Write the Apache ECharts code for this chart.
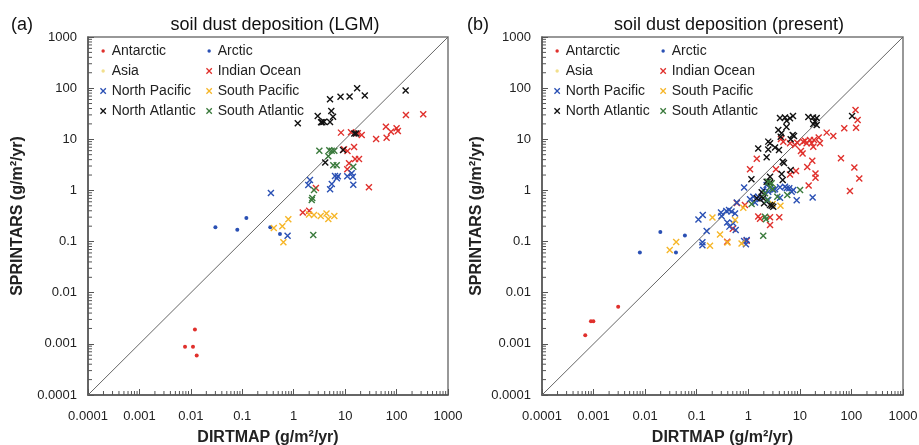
<!DOCTYPE html>
<html>
<head>
<meta charset="utf-8">
<script src="https://cdn.jsdelivr.net/npm/echarts@6/dist/echarts.min.js"></script>
<style>
html,body{margin:0;padding:0;background:#fff;}
#chart{width:919px;height:445px;}
</style>
</head>
<body>
<div id="chart"></div>
<script>
// ---------- tick labels ----------
const tickLabels = ['0.0001','0.001','0.01','0.1','1','10','100','1000'];
const minorMultipliers = [2,3,4,5,6,7,8,9];
const minorDecades = [0.0001,0.001,0.01,0.1,1,10,100];
const oneToOne = [[0.0001,0.0001],[1000,1000]];

// ---------- series names ----------
const groupNames = ['Antarctic','Arctic','Asia','Indian Ocean','North Pacific','South Pacific','North Atlantic','South Atlantic'];

// ---------- (a) LGM : [DIRTMAP, SPRINTARS] ----------
const lgmAntarctic = [[0.0077,0.00088],[0.011,0.00088],[0.012,0.0019],[0.013,0.00059]];
const lgmArctic = [[0.030,0.19],[0.080,0.17],[0.12,0.29],[0.35,0.19],[0.54,0.14]];
const lgmAsia = [];
const lgmIndianOcean = [[8.3,13.5],[13,13.7],[17.6,13.1],[21,12.1],[14.9,7.1],[9.5,6.4],[11.1,5.9],[15.6,4.1],[18.6,4.1],[11.9,3.4],[11,2.6],[2.7,1.11],[29,1.15],[1.5,0.37],[2.0,0.40],[40,10.1],[62,17.6],[78,14.1],[64,10.7],[100,16.4],[106,14.5],[152,30],[330,31]];
const lgmNorthPacific = [[0.36,0.89],[2.07,1.6],[1.92,1.28],[5.1,1.05],[5.5,1.33],[6.35,1.91],[7.2,1.89],[6.9,1.73],[11,1.89],[13.4,2.16],[14.1,1.85],[14.4,1.29],[0.76,0.13]];
const lgmSouthPacific = [[0.41,0.185],[0.60,0.20],[0.785,0.273],[0.63,0.097],[1.98,0.34],[2.48,0.33],[3.35,0.317],[4.34,0.354],[4.71,0.277],[6.16,0.317]];
const lgmNorthAtlantic = [[1.2,20.5],[2.93,28.6],[3.4,21.5],[3.6,21.5],[3.88,22.1],[5.08,21.8],[5.38,35.8],[5.81,27.7],[5.08,60.6],[8.13,68],[12.2,68.7],[17.1,99],[24.1,72],[150,90],[15.1,13],[16.3,13],[9.1,6.2],[4.1,3.5]];
const lgmSouthAtlantic = [[3.15,6.0],[4.92,6.1],[5.48,6.0],[6.16,6.0],[4.71,4.65],[5.89,3.1],[6.86,3.1],[14.4,2.9],[2.48,1.02],[2.24,0.65],[2.3,0.71],[2.4,0.135]];

// ---------- (b) present : [DIRTMAP, SPRINTARS] ----------
const preAntarctic = [[0.00069,0.00147],[0.00089,0.00277],[0.00099,0.00277],[0.0030,0.00534]];
const preArctic = [[0.0079,0.061],[0.0197,0.154],[0.0396,0.061],[0.059,0.132]];
const preAsia = [];
const preIndianOcean = [[120,37.4],[132,23.8],[123,16.9],[72.6,16.4],[33.1,13.5],[44.5,11.6],[23.2,10.8],[18.8,9.7],[12.6,9.4],[15.7,9.7],[16.9,8.35],[24.5,8.35],[18.2,7.17],[10.5,5.9],[11.3,5.3],[17.4,3.79],[62.7,4.25],[114,2.8],[142,1.72],[93.6,0.97],[13.9,2.87],[20.1,2.14],[20.1,1.77],[14.8,1.25],[8.41,2.39],[6.44,2.05],[3.44,2.59],[1.08,2.59],[1.46,4.15],[4.77,8.97],[6.44,8.35],[8.05,7.7],[8.92,8.6],[11.6,8.97],[13.5,8.35],[2.64,0.30],[3.99,0.30],[1.56,0.31],[1.69,0.28],[2.64,0.21],[0.50,0.178],[0.39,0.0995],[0.86,0.52],[0.60,0.57],[0.93,0.104],[4.3,10.1]];
const preNorthPacific = [[0.108,0.27],[0.131,0.331],[0.129,0.097],[0.129,0.085],[0.156,0.161],[0.296,0.371],[0.303,0.317],[0.375,0.397],[0.423,0.415],[0.473,0.388],[0.553,0.354],[0.39,0.236],[0.43,0.196],[0.51,0.228],[0.57,0.169],[0.83,0.103],[0.93,0.107],[0.90,0.089],[0.83,1.14],[1.08,0.67],[1.25,0.75],[1.35,0.58],[1.69,0.68],[2.44,0.65],[2.44,0.94],[3.3,1.05],[5.55,1.1],[4.12,0.72],[8.68,0.64],[6.95,0.94],[0.60,0.58],[1.95,1.02],[2.27,1.28],[3.05,1.02],[4.12,1.15],[5.15,1.18],[6.24,1.1],[7.46,1.02],[17.7,0.73],[1.56,0.75]];
const preSouthPacific = [[0.030,0.0685],[0.040,0.098],[0.181,0.083],[0.202,0.296],[0.283,0.138],[0.395,0.096],[0.553,0.264],[0.74,0.092],[0.80,0.46],[4.21,0.50],[2.97,0.54]];
const preNorthAtlantic = [[1.15,1.66],[1.56,6.6],[2.27,4.44],[2.44,9.0],[2.64,8.35],[2.44,6.3],[3.3,6.9],[3.94,6.17],[3.82,15.2],[4.12,26.1],[5.15,26.7],[6.44,25.7],[7.36,28.6],[5.5,17.4],[4.4,13.1],[7.7,11.6],[6.64,10],[14.6,27.3],[18,26.7],[21.2,26.1],[19.6,22.3],[18.2,19.9],[21.2,19],[103,28.6],[4.65,3.64],[4.92,3.43],[6.64,2.5],[4.44,2.09],[4.65,1.6],[2.64,1.85],[2.64,1.41],[1.82,0.75],[1.95,0.70],[1.46,0.70],[3.05,0.48],[2.64,0.52],[1.82,0.92],[2.02,0.56],[2.84,0.50],[5.55,23.1],[4.25,11.2],[7.26,12.1],[2.27,1.48]];
const preSouthAtlantic = [[1.95,0.130],[2.11,0.306],[2.20,0.272],[1.16,0.54],[2.44,1.48],[2.84,1.38],[2.64,1.15],[10.1,1.02],[3.65,0.75],[5.7,0.81],[2.11,0.88],[2.97,1.06],[2.34,0.65]];

const lgmData = [lgmAntarctic,lgmArctic,lgmAsia,lgmIndianOcean,lgmNorthPacific,lgmSouthPacific,lgmNorthAtlantic,lgmSouthAtlantic];
const preData = [preAntarctic,preArctic,preAsia,preIndianOcean,preNorthPacific,preSouthPacific,preNorthAtlantic,preSouthAtlantic];

// ---------- styles ----------
const colors = {
  'Antarctic':'#e0302c','Arctic':'#2a50b4','Asia':'#f2df8c','Indian Ocean':'#e0302c',
  'North Pacific':'#2a50b4','South Pacific':'#f6b628','North Atlantic':'#111111','South Atlantic':'#3a7a3c'
};
const isDot = {'Antarctic':true,'Arctic':true,'Asia':true};
const crossPath = 'path://M0,0L10,10M10,0L0,10';
const crossIcon = 'path://M0,0M10,10M2,2L8,8M8,2L2,8';
const dotIcon = 'path://M0,0M10,10M5,3.1A1.9,1.9,0,1,1,5,6.9A1.9,1.9,0,1,1,5,3.1Z';

const FONT = 'Liberation Sans, Arial, sans-serif';
const minorTickValues = [];
minorDecades.forEach(d => minorMultipliers.forEach(m => minorTickValues.push(d*m)));

const grids = [
  {left:88, top:37, width:360, height:358},
  {left:542, top:37, width:361, height:358}
];

function labelFmt(v){
  const i = Math.round(Math.log10(v)) + 4;
  return tickLabels[i] !== undefined ? tickLabels[i] : '';
}

function makeAxis(dim, gi, nameGap){
  return {
    type:'log', logBase:10, gridIndex:gi, min:0.0001, max:1000, splitNumber:7,
    name: dim === 'x' ? 'DIRTMAP (g/m²/yr)' : 'SPRINTARS (g/m²/yr)',
    nameLocation:'middle', nameGap:nameGap,
    nameRotate: dim === 'x' ? 0 : 90,
    nameTextStyle:{fontFamily:FONT, fontSize:16, fontWeight:'bold', color:'#222'},
    axisLine:{show:true, onZero:false, lineStyle:{color:'#555', width:1.5}},
    axisTick:{show:true, inside:true, length:6, lineStyle:{color:'#555', width:1}},
    minorTick:{show:false},
    splitLine:{show:false},
    axisLabel:{fontFamily:FONT, fontSize:13, color:'#222', margin: dim === 'x' ? 15 : 11,
      showMinLabel:true, showMaxLabel:true, formatter:labelFmt}
  };
}

const series = [];
[lgmData, preData].forEach((set, gi) => {
  series.push({
    type:'line', name:'1:1', xAxisIndex:gi, yAxisIndex:gi, data:oneToOne,
    symbol:'none', silent:true, lineStyle:{color:'#666', width:1}, z:1, animation:false
  });
  groupNames.forEach((nm, k) => {
    const c = colors[nm];
    series.push({
      type:'scatter', name:nm, xAxisIndex:gi, yAxisIndex:gi, data:set[k],
      symbol: isDot[nm] ? 'circle' : crossPath,
      symbolSize: isDot[nm] ? 4 : 6,
      itemStyle: isDot[nm] ? {color:c, borderWidth:0, opacity:1}
                           : {color:c, borderColor:c, borderWidth:1.4, opacity:1},
      z:3, animation:false
    });
  });
  // minor ticks (log 2..9) drawn through the axis scale
  series.push({
    type:'custom', xAxisIndex:gi, yAxisIndex:gi, silent:true, z:2, clip:false, animation:false,
    data: minorTickValues.map(v => [v, 0.0001]),
    renderItem:(params, api) => {
      const p = api.coord([api.value(0), 0.0001]);
      return {type:'line', shape:{x1:p[0], y1:p[1], x2:p[0], y2:p[1]-4}, style:{stroke:'#555', lineWidth:1}};
    }
  });
  series.push({
    type:'custom', xAxisIndex:gi, yAxisIndex:gi, silent:true, z:2, clip:false, animation:false,
    data: minorTickValues.map(v => [0.0001, v]),
    renderItem:(params, api) => {
      const p = api.coord([0.0001, api.value(1)]);
      return {type:'line', shape:{x1:p[0], y1:p[1], x2:p[0]+4, y2:p[1]}, style:{stroke:'#555', lineWidth:1}};
    }
  });
});

function legendItem(nm){
  const c = colors[nm];
  return {name:nm, icon: isDot[nm] ? dotIcon : crossIcon,
    itemStyle: isDot[nm] ? {color:c, borderWidth:0} : {color:c, borderColor:c, borderWidth:1.3}};
}
const col1 = ['Antarctic','Asia','North Pacific','North Atlantic'];
const col2 = ['Arctic','Indian Ocean','South Pacific','South Atlantic'];
const legends = [];
grids.forEach(g => {
  [[col1, 10], [col2, 116]].forEach(([names, off]) => {
    legends.push({
      orient:'vertical', left:g.left + off, top:44, itemWidth:9, itemHeight:9, itemGap:6,
      selectedMode:false, padding:0,
      textStyle:{fontFamily:FONT, fontSize:14, color:'#222', padding:[0,0,0,-1]},
      data:names.map(legendItem)
    });
  });
});

const titleStyle = {fontFamily:FONT, fontSize:18, fontWeight:'normal', color:'#111'};
const option = {
  backgroundColor:'#fff',
  animation:false,
  title:[
    {text:'soil dust deposition (LGM)', left:270, top:11, textAlign:'center', textStyle:titleStyle},
    {text:'soil dust deposition (present)', left:724, top:11, textAlign:'center', textStyle:titleStyle},
    {text:'(a)', left:6, top:11, textStyle:titleStyle},
    {text:'(b)', left:462, top:11, textStyle:titleStyle}
  ],
  grid: grids.map(g => Object.assign({show:true, borderColor:'#777', borderWidth:1.5,
    backgroundColor:'transparent', containLabel:false, outerBoundsMode:'none'}, g)),
  xAxis:[makeAxis('x',0,35), makeAxis('x',1,35)],
  yAxis:[makeAxis('y',0,62), makeAxis('y',1,57)],
  legend:legends,
  series:series
};

const chart = echarts.init(document.getElementById('chart'), null, {renderer:'canvas'});
chart.setOption(option);
</script>
</body>
</html>
